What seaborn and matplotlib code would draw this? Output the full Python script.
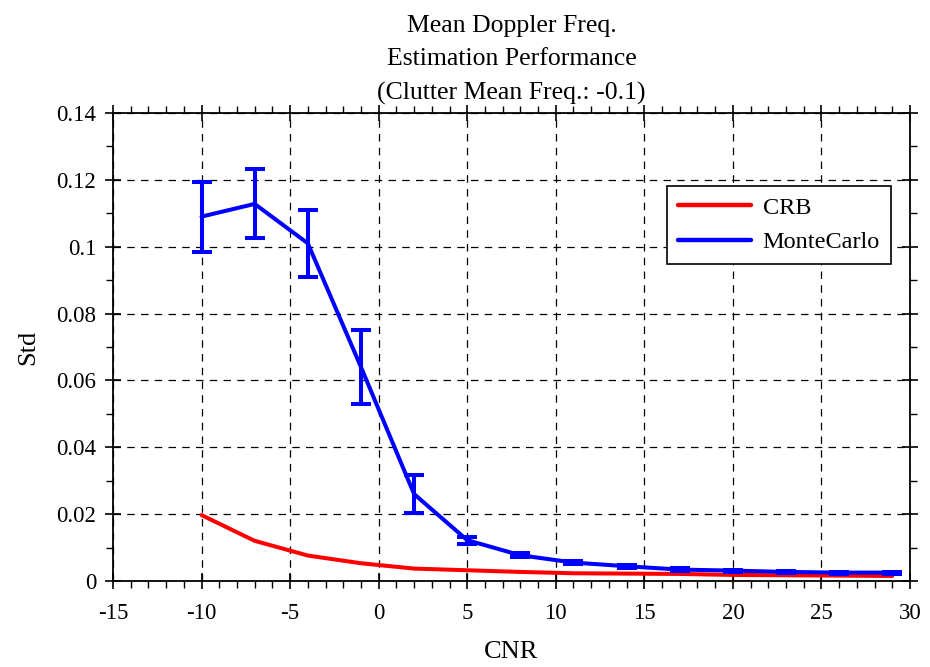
import matplotlib
matplotlib.use("Agg")
import matplotlib.pyplot as plt
import seaborn as sns
import numpy as np
import pandas as pd
from matplotlib.ticker import MultipleLocator

cnr = [-10, -7, -4, -1, 2, 5, 8, 11, 14, 17, 20, 23, 26, 29]
crb = [0.0197, 0.0120, 0.0076, 0.0053, 0.0037, 0.0032, 0.0027, 0.0023, 0.0022, 0.0021, 0.0018, 0.0017, 0.0016, 0.0015]
mc = [0.109, 0.1128, 0.101, 0.064, 0.026, 0.0122, 0.0077, 0.0055, 0.0044, 0.0034, 0.0031, 0.0027, 0.0025, 0.0025]
mc_err = [0.0105, 0.0103, 0.0100, 0.0112, 0.0058, 0.0010, 0.0006, 0.0005, 0.0004, 0.0004, 0.0003, 0.0003, 0.0003, 0.0003]

sns.set_style("white")
plt.rcParams['font.family'] = ['Liberation Serif', 'DejaVu Serif']
plt.rcParams['text.color'] = 'black'
plt.rcParams['axes.labelcolor'] = 'black'
plt.rcParams['xtick.color'] = 'black'
plt.rcParams['ytick.color'] = 'black'

fig = plt.figure(figsize=(9.3, 6.67), dpi=100)
ax = fig.add_axes([0.1215, 0.129, 0.857, 0.7016])

df = pd.DataFrame({"CNR": cnr * 2, "Std": crb + mc,
                   "series": ["CRB"] * len(cnr) + ["MonteCarlo"] * len(cnr)})
sns.lineplot(data=df, x="CNR", y="Std", hue="series",
             palette={"CRB": "#ff0000", "MonteCarlo": "#0000ff"},
             linewidth=2.9, ax=ax, legend=True)
ax.errorbar(cnr, mc, yerr=mc_err, fmt='none', ecolor="#0000ff",
            elinewidth=2.9, capsize=7, capthick=2.9)

ax.set_xlim(-15, 30)
ax.set_ylim(0, 0.14)
ax.xaxis.set_minor_locator(MultipleLocator(1))
ax.yaxis.set_minor_locator(MultipleLocator(0.01))
ax.set_xticks([-15, -10, -5, 0, 5, 10, 15, 20, 25, 30])
ax.set_xticklabels(["-15", "-10", "-5", "0", "5", "10", "15", "20", "25", "30"])
ax.set_yticks([0, 0.02, 0.04, 0.06, 0.08, 0.1, 0.12, 0.14])
ax.set_yticklabels(["0", "0.02", "0.04", "0.06", "0.08", "0.1", "0.12", "0.14"])

ax.tick_params(which='major', direction='inout', length=12, width=1.2,
               top=True, right=True, bottom=True, left=True, labelsize=16.5)
ax.tick_params(axis='x', which='major', pad=10)
ax.tick_params(axis='y', which='major', pad=6)
ax.tick_params(which='minor', direction='out', length=5, width=1.0,
               top=True, right=True, bottom=True, left=True)
for s in ax.spines.values():
    s.set_linewidth(1.3)
    s.set_color("black")

ax.grid(True, which='major', linestyle=(0, (6, 5)), color='black', linewidth=0.9)

ax.set_xlabel("CNR", fontsize=19, labelpad=12)
ax.set_ylabel("Std", fontsize=19, labelpad=12)
ax.set_title("Mean Doppler Freq.\nEstimation Performance\n(Clutter Mean Freq.: -0.1)",
             fontsize=18.5, linespacing=1.65, pad=10, color='black')

leg = ax.legend(loc='upper right', bbox_to_anchor=(0.976, 0.844), borderaxespad=0,
                fontsize=17.5, frameon=True, fancybox=False, edgecolor='black',
                framealpha=1, handlelength=3.0, handletextpad=0.5,
                borderpad=0.45, labelspacing=0.5)
leg.get_frame().set_linewidth(1.2)
for line in leg.get_lines():
    line.set_linewidth(3.2)

fig.savefig("out.png", dpi=100)
